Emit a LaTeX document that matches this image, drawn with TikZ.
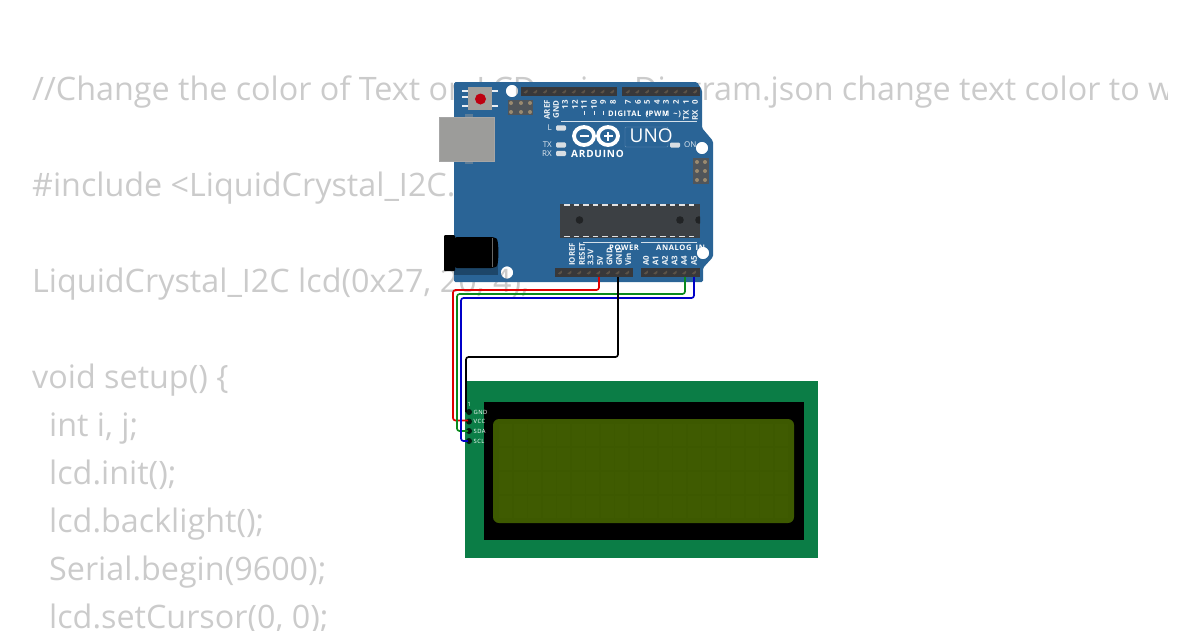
\documentclass[tikz,border=0pt]{standalone}
\usepackage{fontspec}
\setmainfont{Open Sans}
\newfontfamily\boardfont[LetterSpace=8,WordSpace=1.6]{Open Sans}
\definecolor{codegrey}{HTML}{CBCBCB}
\definecolor{boardblue}{HTML}{2A6496}
\definecolor{pcbgreen}{HTML}{0B7D46}
\definecolor{lcdgreen}{HTML}{3D5900}
\definecolor{lcdcell}{HTML}{3F5B01}
\definecolor{hdr}{HTML}{38383A}
\definecolor{pinc}{HTML}{5C5348}
\definecolor{chipc}{HTML}{3C4044}
\definecolor{usbc}{HTML}{9C9C9A}
\definecolor{btnc}{HTML}{A2A09C}
\definecolor{ledc}{HTML}{D8DEE3}
\definecolor{pad}{HTML}{9A8A70}
\definecolor{icsp}{HTML}{50555A}
\definecolor{btnred}{HTML}{BE0010}
\definecolor{wred}{HTML}{E00000}
\definecolor{wgreen}{HTML}{0A8A1E}
\definecolor{wblue}{HTML}{0000C8}
\tikzset{
  x=1pt,y=-1pt,
  codeline/.style={anchor=base west,inner sep=0pt,text=codegrey,font=\fontsize{32.3}{32.3}\selectfont},
  pinlabel/.style={rotate=90,anchor=east,inner sep=0pt,text=white!92!boardblue,font=\fontsize{7.9}{7.9}\selectfont\bfseries},
  silk/.style={inner sep=0pt,text=white,font=\fontsize{7.6}{7.6}\selectfont\bfseries\boardfont},
  side/.style={inner sep=0pt,text=white!85!boardblue,font=\fontsize{8}{8}\selectfont},
  wire/.style={line width=1.7pt,rounded corners=2.5pt,line join=round},
  led/.style={fill=ledc,draw=none,rounded corners=1.2pt},
  header/.style={fill=hdr,draw=none},
  lcdlabel/.style={anchor=west,inner sep=0pt,text=white,font=\fontsize{5.8}{5.8}\selectfont\boardfont},
}
\begin{document}
\begin{tikzpicture}
\useasboundingbox (0,0) rectangle (1200,630);
% background code text
\begin{scope}
\clip (0,0) rectangle (1167,630);
\node[codeline] (c1) at (32,100) {//Change the color of Text on LCD using Diagram.json change text color to white};
\node[codeline] (c2) at (32,196) {\#include <LiquidCrystal\_I2C.h>};
\node[codeline] (c3) at (32,292) {LiquidCrystal\_I2C lcd(0x27, 20, 4);};
\node[codeline] (c4) at (32,388) {void setup() \{};
\node[codeline] (c5) at (49,436) {int i, j;};
\node[codeline] (c6) at (49,484) {lcd.init();};
\node[codeline] (c7) at (49,532) {lcd.backlight();};
\node[codeline] (c8) at (49,580) {Serial.begin(9600);};
\node[codeline] (c9) at (49,628) {lcd.setCursor(0, 0);};
\end{scope}
% board with real mounting holes
\fill[boardblue,even odd rule] [rounded corners=1.5pt] (454,82) -- (697,82) -- (702,90) -- (702,128) -- (713,141) -- (713,257) -- (703,268) -- (703,282) -- (454,282) -- cycle
  [sharp corners] (512,91) circle (6.2) (702,148) circle (6.2) (703,253) circle (6.2) (507,272.5) circle (6.2);
% USB
\fill[boardblue!55!usbc] (465,114) rectangle (473,164);
\fill[usbc] (439,117) rectangle (494,161);
\draw[black!35,line width=.4pt] (439,117) rectangle (494,161);
% reset
\foreach \yy in {91,97,106}{\fill[white!90!boardblue] (462,\yy-1.3) rectangle (468,\yy+1.3);}
\foreach \yy in {91,106}{\fill[white!90!boardblue] (492,\yy-1.3) rectangle (498,\yy+1.3);}
\fill[btnc] (468,87) rectangle (492,110);
\fill[btnred] (480.5,99) circle (5.5);
% ICSP top
\fill[icsp] (508,100) rectangle (533,115);
\foreach \xx in {511,521,530}{\foreach \yy in {103,112}{\fill[pad] (\xx,\yy) circle (2);}}
% ICSP right
\fill[icsp] (693,158) rectangle (709,184);
\foreach \xx in {697,705}{\foreach \yy in {162,171,180}{\fill[pad] (\xx,\yy) circle (2);}}
% jack
\fill[boardblue!70!black] (454,242) rectangle (498,275);
\fill[black,rounded corners=1pt] (444,235) rectangle (455,271);
\fill[black,rounded corners=3pt] (454,237) -- (494,237) .. controls (499,240) and (499,265) .. (494,268) -- (454,268) -- cycle;
\draw[black!60,line width=.3pt] (492,238) -- (492,267);
% headers
\fill[header] (521,87) rectangle (617,96);
\fill[header] (622,87) rectangle (700,96);
\fill[header] (555,268) rectangle (633,277);
\fill[header] (641,268) rectangle (700,277);
\foreach \i in {0,...,9}{\fill[pinc] (525.8+9.6*\i-2.2,92.5) -- ++(4,-3) -- ++(0,2.5) -- ++(-2,1.5) -- cycle;}
\foreach \i in {0,...,7}{\fill[pinc] (627.8+9.6*\i-2.2,92.5) -- ++(4,-3) -- ++(0,2.5) -- ++(-2,1.5) -- cycle;}
\foreach \i in {0,...,7}{\fill[pinc] (560+9.6*\i-2.2,273.5) -- ++(4,-3) -- ++(0,2.5) -- ++(-2,1.5) -- cycle;}
\foreach \i in {0,...,5}{\fill[pinc] (646+9.6*\i-2.2,273.5) -- ++(4,-3) -- ++(0,2.5) -- ++(-2,1.5) -- cycle;}
% chip
\fill[chipc] (560,204) rectangle (700,238);
\foreach \i in {0,...,13}{
  \fill[white!85!chipc] (564+9.6*\i,204.3) rectangle +(5.5,1.6);
  \fill[white!85!chipc] (564+9.6*\i,235.6) rectangle +(5.5,1.6);
}
\fill[black!45!chipc] (579.5,220) circle (3.8);
\fill[black!45!chipc] (680,220) circle (3.8);
\begin{scope}\clip (560,204) rectangle (700,238);\fill[black!45!chipc] (699,220) circle (3.8);\end{scope}
% pin labels top
\foreach \xx/\tt in {547/AREF,556/GND,565/13,575/12,584/11,594/10,603/9,613/8,628/7,638/6,647/5,657/4,666/3,676/2,686/1,695/0}{
  \node[pinlabel] at (\xx,100) {\tt};
}
\foreach \xx in {584,594,603,638,647,666}{\draw[white!90!boardblue,line width=.7pt] (\xx,110.5) -- (\xx,115);}
\node[pinlabel] at (686,110) {TX};
\node[pinlabel] at (695,110) {RX};
\node[silk,anchor=west] (dig) at (608,114) {DIGITAL (PWM \textasciitilde)};
\draw[white!80!boardblue,line width=.7pt] (561,121) -- (697,121);
% side labels
\node[side,anchor=east] (ll) at (552,128) {L};
\node[side,anchor=east] (ltx) at (552,145) {TX};
\node[side,anchor=east] (lrx) at (552,153.5) {RX};
\foreach \yy in {128,145,153.5}{\fill[led] (556,\yy-2.6) rectangle (566,\yy+2.6);}
\fill[led] (670,142.5) rectangle (680,147.5);
\node[side,anchor=west] (lon) at (684,145) {ON};
% logo
\draw[white,line width=3.8pt] (584,136) ellipse (10 and 9);
\draw[white,line width=3.8pt] (608,136) ellipse (10 and 9);
\fill[white] (579.5,135) rectangle (588.5,137.2);
\fill[white] (603.5,135) rectangle (612.5,137.2);
\fill[white] (606.9,131.5) rectangle (609.1,140.5);
\node[silk,anchor=west,font=\fontsize{10}{10}\selectfont\bfseries\boardfont] (ard) at (571,154) {ARDUINO};
\draw[white!30!boardblue,line width=.4pt,rounded corners=1pt] (625,127) rectangle (668,147);
\node[inner sep=0pt,anchor=west,text=white,font=\fontsize{19}{19}\selectfont] (uno) at (629.5,135.5) {UNO};
% bottom labels
\foreach \xx/\tt in {572/IOREF,582/RESET,590.5/3.3V,600/5V,609.5/GND,619/GND,628/Vin,646/A0,655.5/A1,665/A2,674.5/A3,684/A4,694/A5}{
  \node[pinlabel,anchor=west] at (\xx,266) {\tt};
}
\draw[white!80!boardblue,line width=.7pt] (583,242) -- (631,242);
\draw[white!80!boardblue,line width=.7pt] (641,242) -- (697,242);
\node[silk,anchor=west] (pw) at (609,248) {POWER};
\node[silk,anchor=west] (an) at (656,248) {ANALOG IN};
% LCD
\fill[pcbgreen] (465,381) rectangle (818,558);
\fill[black] (484,402) rectangle (804,540);
\fill[lcdgreen,rounded corners=6pt] (493,419) rectangle (794,523);
\foreach \i in {0,...,19}{\foreach \j in {0,...,3}{
  \fill[lcdcell] (499+14.5*\i,424+24*\j) rectangle +(13,22);
}}
\foreach \yy/\tt in {412/GND,421.5/VCC,431/SDA,441/SCL}{
  \fill[black!80!pcbgreen] (469,\yy) circle (3);
  \node[lcdlabel] at (473.5,\yy) {\tt};
}
\node[lcdlabel] (one) at (467.5,404) {1};
% wire end points
\coordinate (p5v) at (599,277);
\coordinate (pgnd) at (618,277);
\coordinate (pa4) at (685,277);
\coordinate (pa5) at (694,277);
\coordinate (lgnd) at (466,412);
\coordinate (lvcc) at (468,420.5);
\coordinate (lsda) at (468,431);
\coordinate (lscl) at (468,441);
\coordinate (r1) at (599,290);
\coordinate (r2) at (453,290);
\coordinate (r3) at (453,420.5);
\coordinate (g1) at (685,294);
\coordinate (g2) at (457,294);
\coordinate (g3) at (457,431);
\coordinate (b1) at (694,298);
\coordinate (b2) at (461,298);
\coordinate (b3) at (461,441);
\coordinate (k1) at (618,357);
\coordinate (k2) at (466,357);
\draw[wire,draw=wred] (p5v) -- (r1) -- (r2) -- (r3) -- (lvcc);
\draw[wire,draw=wgreen] (pa4) -- (g1) -- (g2) -- (g3) -- (lsda);
\draw[wire,draw=wblue] (pa5) -- (b1) -- (b2) -- (b3) -- (lscl);
\draw[wire,draw=black] (pgnd) -- (k1) -- (k2) -- (lgnd);
\end{tikzpicture}
\end{document}
